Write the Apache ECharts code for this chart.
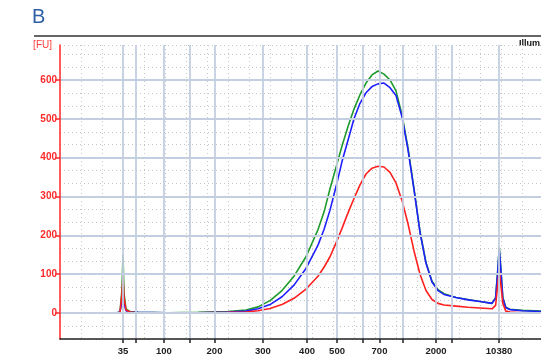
<!DOCTYPE html>
<html>
<head>
<meta charset="utf-8">
<script src="https://cdn.jsdelivr.net/npm/echarts@6/dist/echarts.min.js"></script>
<style>
  html, body { margin: 0; padding: 0; background: #fff; }
  #chart { width: 541px; height: 356px; }
</style>
</head>
<body>
<div id="chart"></div>
<script>
// migration time (s) and fluorescence of the three samples
const times = [42, 46, 50, 51.5, 52, 52.33, 52.5, 52.67, 53, 53.67, 55, 60, 65, 70,
  73, 75, 77, 79, 81, 83, 85, 86, 87, 88, 89, 90, 91, 92, 93, 94, 95, 96, 97, 98, 99, 100,
  101, 102, 103, 104, 105, 106, 108, 110, 112, 114, 114.6, 115, 115.2, 115.5, 115.8, 116.3,
  117, 119, 122.17];
const green = [1, 1, 1, 1, 3, 60, 150, 50, 10, 4, 2, 1, 2, 4,
  8, 16, 32, 58, 95, 145, 215, 260, 320, 375, 430, 480, 525, 562, 592, 613, 623, 615, 600, 572, 510, 425,
  320, 210, 130, 82, 60, 50, 40, 35, 30, 25, 40, 120, 170, 110, 40, 15,
  10, 7, 5];
const blue = [1, 1, 1, 1, 3, 30, 60, 25, 6, 3, 2, 1, 1, 3,
  5, 11, 22, 42, 72, 115, 175, 215, 265, 325, 390, 445, 500, 540, 567, 583, 590, 592, 580, 560, 505, 420,
  318, 208, 128, 80, 58, 48, 40, 34, 30, 25, 38, 115, 165, 105, 38, 14,
  9, 6, 4];
const red = [0, 0, 0, 0, 2, 50, 95, 40, 8, 3, 1, 0, 1, 2,
  3, 6, 12, 22, 38, 62, 95, 118, 145, 180, 218, 258, 295, 330, 358, 373, 378, 376, 362, 335, 290, 230,
  160, 100, 58, 35, 25, 21, 18, 15, 13, 11, 20, 80, 112, 70, 25, 5,
  3, 1, 0];

// ladder: size (bp) and where it runs
const ladderSizes = [35, 50, 100, 150, 200, 300, 400, 500, 600, 700, 1000, 2000, 3000, 10380];
const ladderTimes = [52.5, 54.67, 59.33, 63.67, 67.75, 75.83, 83.17, 88.17, 92.42, 95.25, 99.08, 104.67, 107.25, 115.17];
const shownSizes = [35, 100, 200, 300, 400, 500, 700, 2000, 10380];
const yTicks = [0, 100, 200, 300, 400, 500, 600];

const xMin = 42, xMax = 122.1667;
const yMin = -200 / 3, yMax = 690;

const pairs = (vals) => times.map((t, i) => [t, vals[i]]);
const shownTimes = ladderTimes.filter((t, i) => shownSizes.indexOf(ladderSizes[i]) >= 0);
const sizeAt = (v) => {
  for (let i = 0; i < ladderTimes.length; i++) {
    if (Math.abs(ladderTimes[i] - v) < 1e-6) return String(ladderSizes[i]);
  }
  return '';
};

const gridColor = '#c3cee0';
const dotColor = '#c4c4c4';

var myChart = echarts.init(document.getElementById('chart'));
myChart.setOption({
  animation: false,
  title: {
    text: 'B', left: 32, top: 7, padding: 0,
    textStyle: { color: '#2d5fa6', fontSize: 20, fontWeight: 'normal', fontFamily: 'Liberation Sans' }
  },
  graphic: [
    { type: 'line', shape: { x1: 34, y1: 36, x2: 541, y2: 36 }, style: { stroke: '#333', lineWidth: 1.5 } },
    { type: 'text', left: 519, top: 39,
      style: { text: 'Illum', fill: '#111', font: 'bold 9px "Liberation Sans"' } }
  ],
  grid: { left: 60, right: 0, top: 45, bottom: 17 },
  xAxis: [{
    type: 'value', min: xMin, max: xMax, z: 5,
    axisLine: { onZero: false, lineStyle: { color: '#222', width: 1.5 } },
    axisTick: { customValues: ladderTimes, length: 4, lineStyle: { color: '#222', width: 1.5 } },
    axisLabel: {
      customValues: shownTimes, formatter: sizeAt, margin: 7, hideOverlap: false,
      color: '#222', fontSize: 9.5, fontWeight: 'bold', fontFamily: 'Liberation Sans'
    },
    splitLine: { show: false }
  }, {
    // dotted minor grid
    type: 'value', min: xMin, max: xMax, interval: 3.5, position: 'top',
    axisLine: { show: false }, axisTick: { show: false }, axisLabel: { show: false },
    splitLine: { show: true, lineStyle: { color: dotColor, type: [1, 3], width: 1 } }
  }],
  yAxis: [{
    type: 'value', min: yMin, max: yMax, z: 5,
    name: '[FU]', nameLocation: 'end', nameGap: 0,
    nameTextStyle: { color: '#ff3a3a', fontSize: 10, align: 'right', verticalAlign: 'middle',
      padding: [0, 8, 0, 0], fontFamily: 'Liberation Sans' },
    axisLine: { onZero: false, lineStyle: { color: '#ff2a2a', width: 1.5 } },
    axisTick: { customValues: yTicks, length: 5, lineStyle: { color: '#ff2a2a', width: 1.5 } },
    axisLabel: {
      customValues: yTicks, margin: 3, color: '#ff2a2a', fontSize: 10, fontWeight: 'bold',
      fontFamily: 'Liberation Sans'
    },
    splitLine: { show: false }
  }, {
    type: 'value', min: yMin, max: yMax, interval: 100 / 3,
    axisLine: { show: false }, axisTick: { show: false }, axisLabel: { show: false },
    splitLine: { show: true, lineStyle: { color: dotColor, type: [1, 3], width: 1 } }
  }],
  series: [
    {
      // solid grid at ladder peaks and every 100 FU
      type: 'line', data: [], z: 1, silent: true,
      markLine: {
        silent: true, symbol: 'none', label: { show: false }, animation: false,
        lineStyle: { color: gridColor, type: 'solid', width: 1.8 },
        data: ladderTimes.map((t) => ({ xAxis: t })).concat(yTicks.map((v) => ({ yAxis: v })))
      }
    },
    { name: 'green', type: 'line', data: pairs(green), showSymbol: false, z: 3,
      lineStyle: { color: '#1e9a2a', width: 1.6 } },
    { name: 'blue', type: 'line', data: pairs(blue), showSymbol: false, z: 3,
      lineStyle: { color: '#1f1fff', width: 1.6 } },
    { name: 'red', type: 'line', data: pairs(red), showSymbol: false, z: 3,
      lineStyle: { color: '#ff2020', width: 1.6 } }
  ]
});
</script>
</body>
</html>
